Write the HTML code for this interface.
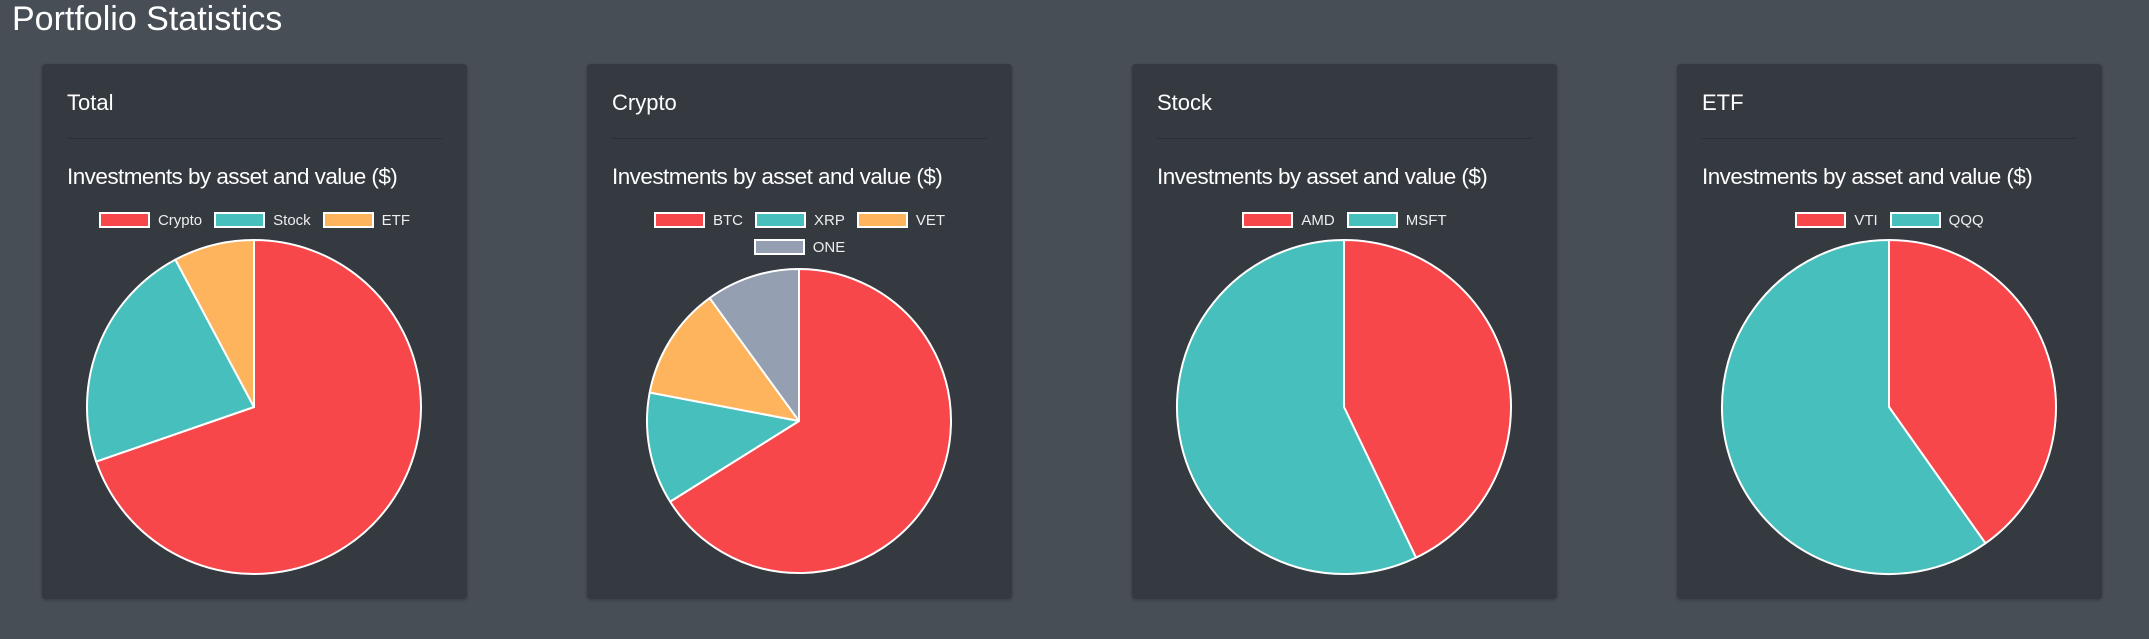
<!DOCTYPE html>
<html><head><meta charset="utf-8"><style>
html,body{margin:0;padding:0}
body{width:2149px;height:639px;background:#474e56;position:relative;overflow:hidden;font-family:"Liberation Sans",sans-serif;color:#fff}
.title{position:absolute;left:12px;top:0px;font-size:34px;letter-spacing:0px}
.card{position:absolute;top:64px;height:535px;width:425px;background:#353940;border-radius:4px;box-shadow:0 1px 3px rgba(0,0,0,.25)}
.card h3{position:absolute;left:25px;top:26px;margin:0;font-weight:normal;font-size:22px}
.divider{position:absolute;left:25px;right:25px;top:74px;height:1px;background:#2c3036}
.sub{position:absolute;left:25px;top:100px;font-size:22.5px;letter-spacing:-0.55px;white-space:nowrap}
.legend{position:absolute;left:25px;right:25px;top:148px;display:flex;flex-wrap:wrap;justify-content:center;row-gap:11px}
.li{display:flex;align-items:center;margin:0 6px;font-size:15px;color:#eee;height:16px}
.box{width:47px;height:12px;border:2px solid #fff;margin-right:8px}
svg{position:absolute;left:0;top:0}
</style></head><body>
<div class="title">Portfolio Statistics</div>
<div id="root"></div>
<script>
const colors=['#f7474b','#47bfbd','#fdb45c','#949fb1'];
const totalLabels=['Crypto','Stock','ETF'];
const totalValues=[69.7,22.5,7.8];
const cryptoLabels=['BTC','XRP','VET','ONE'];
const cryptoValues=[66.1,11.9,12.0,10.0];
const stockLabels=['AMD','MSFT'];
const stockValues=[42.9,57.1];
const etfLabels=['VTI','QQQ'];
const etfValues=[40.2,59.8];

const cards=[
 {name:'total',title:'Total',left:42,labels:totalLabels,values:totalValues,cx:212,cy:343,r:167},
 {name:'crypto',title:'Crypto',left:587,labels:cryptoLabels,values:cryptoValues,cx:212,cy:357,r:152},
 {name:'stock',title:'Stock',left:1132,labels:stockLabels,values:stockValues,cx:212,cy:343,r:167},
 {name:'etf',title:'ETF',left:1677,labels:etfLabels,values:etfValues,cx:212,cy:343,r:167}
];
const NS='http://www.w3.org/2000/svg';
const root=document.getElementById('root');
cards.forEach(c=>{
 const card=document.createElement('div');card.className='card';card.style.left=c.left+'px';
 
 
 const h=document.createElement('h3');h.textContent=c.title;
 
 
 card.appendChild(h);
 const d=document.createElement('div');d.className='divider';
 
 
 card.appendChild(d);
 const s=document.createElement('div');s.className='sub';s.textContent='Investments by asset and value ($)';
 
 
 card.appendChild(s);
 const lg=document.createElement('div');lg.className='legend';
 
 
 c.labels.forEach((l,i)=>{
  const it=document.createElement('div');it.className='li';
  
  
  const b=document.createElement('span');b.className='box';b.style.background=colors[i];
  it.appendChild(b);it.appendChild(document.createTextNode(l));lg.appendChild(it);
 });
 card.appendChild(lg);
 const svg=document.createElementNS(NS,'svg');svg.setAttribute('width',425);svg.setAttribute('height',535);
 
 
 const tot=c.values.reduce((a,b)=>a+b,0);let a0=0;
 const pt=a=>[c.cx+c.r*Math.sin(a),c.cy-c.r*Math.cos(a)];
 c.values.forEach((v,i)=>{
  const a1=a0+v/tot*2*Math.PI;const p0=pt(a0),p1=pt(a1);
  const large=(a1-a0)>Math.PI?1:0;
  const p=document.createElementNS(NS,'path');
  p.setAttribute('d',`M${c.cx},${c.cy}L${p0[0]},${p0[1]}A${c.r},${c.r} 0 ${large} 1 ${p1[0]},${p1[1]}Z`);
  p.setAttribute('fill',colors[i]);p.setAttribute('stroke','#fff');p.setAttribute('stroke-width','2');p.setAttribute('stroke-linejoin','round');
  
  
  svg.appendChild(p);a0=a1;
 });
 card.appendChild(svg);
 root.appendChild(card);
});
</script>
</body></html>
